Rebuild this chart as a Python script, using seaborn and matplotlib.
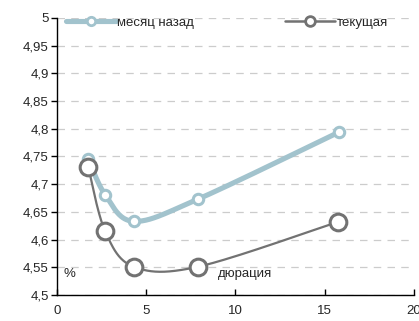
import numpy as np
import pandas as pd
import matplotlib
matplotlib.use("Agg")
import matplotlib.pyplot as plt
import seaborn as sns
from matplotlib.lines import Line2D
from matplotlib.ticker import FuncFormatter

# данные кривых доходности
duration = [1.75, 2.7, 4.3, 7.9, 15.8]
month_ago = [4.746, 4.681, 4.633, 4.673, 4.794]
duration_cur = [1.75, 2.7, 4.3, 7.9, 15.75]
current = [4.731, 4.615, 4.551, 4.551, 4.632]

series_names = ["месяц назад", "текущая"]

sns.set_theme(style="white")
plt.rcParams['font.family'] = ['Liberation Sans', 'DejaVu Sans']

BLUE = "#a2c3cd"
GRAY = "#727272"


def smooth(xs, ys, n=40):
    # сглаживание как в Excel (Catmull-Rom -> Bezier)
    p = np.column_stack([xs, ys]).astype(float)
    p = np.vstack([p[0], p, p[-1]])
    out = []
    t = np.linspace(0, 1, n)[:, None]
    for i in range(1, len(p) - 2):
        p0, p1, p2, p3 = p[i - 1], p[i], p[i + 1], p[i + 2]
        c1 = p1 + (p2 - p0) / 6
        c2 = p2 - (p3 - p1) / 6
        seg = ((1 - t) ** 3) * p1 + 3 * ((1 - t) ** 2) * t * c1 + 3 * (1 - t) * t ** 2 * c2 + t ** 3 * p2
        out.append(seg if i == 1 else seg[1:])
    out = np.vstack(out)
    return pd.DataFrame({"x": out[:, 0], "y": out[:, 1]})


fig, ax = plt.subplots(figsize=(4.19, 3.21), dpi=100)
fig.subplots_adjust(left=0.136, right=0.988, top=0.944, bottom=0.081)

c1 = smooth(duration, month_ago)
c2 = smooth(duration_cur, current)
sns.lineplot(data=c1, x="x", y="y", sort=False, estimator=None, color=BLUE, lw=3.7, ax=ax, zorder=3)
sns.lineplot(data=c2, x="x", y="y", sort=False, estimator=None, color=GRAY, lw=1.6, ax=ax, zorder=3)
ax.plot(duration, month_ago, ls="none", marker="o", ms=7.5, mfc="white", mec=BLUE, mew=2.2, zorder=4)
ax.plot(duration_cur, current, ls="none", marker="o", ms=12, mfc="white", mec=GRAY, mew=2.2, zorder=4)

ax.set_xlim(0, 20)
ax.set_ylim(4.5, 5.0)
ax.set_xticks([0, 5, 10, 15, 20])
ax.set_yticks(np.arange(4.5, 5.001, 0.05))
ax.yaxis.set_major_formatter(FuncFormatter(lambda v, _: f"{v:.2f}".rstrip("0").rstrip(".").replace(".", ",")))
ax.set_xlabel("")
ax.set_ylabel("")

ax.grid(axis="y", color="#cccccc", ls=(0, (6, 5)), lw=0.9)
ax.set_axisbelow(True)
for s in ["top", "right"]:
    ax.spines[s].set_visible(False)
for s in ["left", "bottom"]:
    ax.spines[s].set_color("black")
    ax.spines[s].set_linewidth(1.0)
ax.tick_params(axis="y", direction="out", length=4, width=1, color="black", labelsize=9.5, pad=2, left=True)
ax.tick_params(axis="x", direction="in", length=4, width=1, color="black", labelsize=9.5, pad=7, bottom=True)

ax.text(0.35, 4.538, "%", fontsize=9.5, ha="left", va="center")
ax.text(9.0, 4.537, "дюрация", fontsize=9.5, ha="left", va="center")

handles = [
    Line2D([], [], color=BLUE, lw=3.7, marker="o", ms=6, mfc="white", mec=BLUE, mew=2),
    Line2D([], [], color=GRAY, lw=1.8, marker="o", ms=7, mfc="white", mec=GRAY, mew=2),
]
ax.legend(handles, series_names, ncol=2, loc="upper left", bbox_to_anchor=(0.01, 1.025),
          frameon=False, fontsize=9.5, handlelength=3.8, handletextpad=0.1,
          columnspacing=6.9, borderaxespad=0)

fig.savefig("out.png", dpi=100)
